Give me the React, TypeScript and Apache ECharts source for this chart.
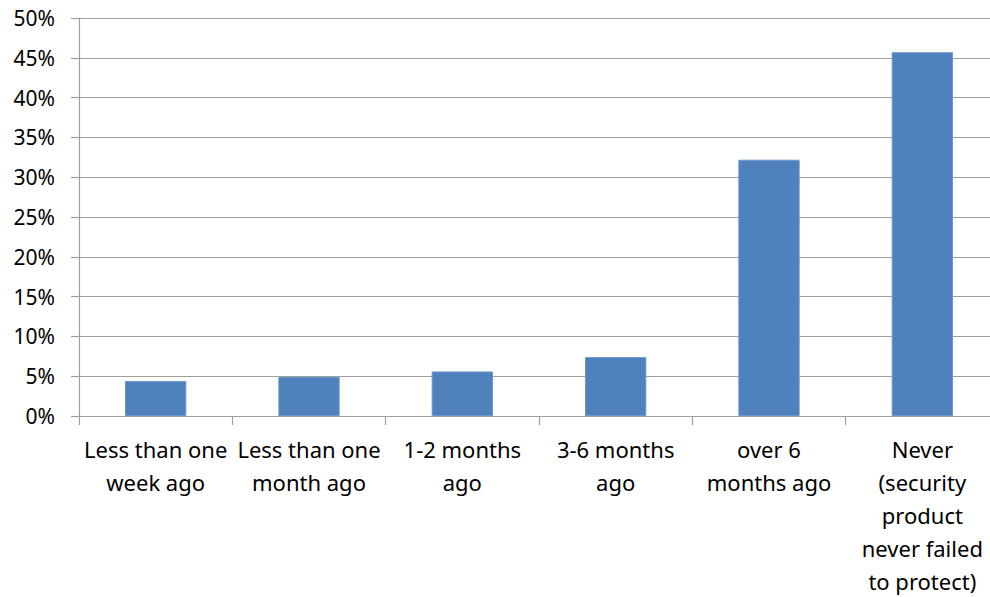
import React, { useEffect, useRef } from "react";
import * as echarts from "echarts";

const categories = [
  "Less than one\nweek ago",
  "Less than one\nmonth ago",
  "1-2 months\nago",
  "3-6 months\nago",
  "over 6\nmonths ago",
  "Never\n(security\nproduct\nnever failed\nto protect)",
];
const values = [4.4, 4.9, 5.6, 7.4, 32.2, 45.7];
const yTicks = { min: 0, max: 50, interval: 5 };

const FONT = "'Noto Sans', sans-serif";

export default function App() {
  const ref = useRef<HTMLDivElement>(null);
  useEffect(() => {
    if (!ref.current) return;
    const chart = echarts.init(ref.current, undefined, { renderer: "svg" });
    chart.setOption({
      animation: false,
      backgroundColor: "#ffffff",
      grid: { left: 79, right: 1, top: 18, bottom: 181, containLabel: false },
      xAxis: {
        type: "category",
        data: categories,
        axisLine: { show: true, lineStyle: { color: "#9e9e9e", width: 1.2 } },
        axisTick: { show: true, length: 9, lineStyle: { color: "#9e9e9e", width: 1.2 } },
        axisLabel: {
          interval: 0,
          color: "#000",
          fontFamily: FONT,
          fontSize: 22,
          lineHeight: 33,
          margin: 16,
        },
      },
      yAxis: {
        type: "value",
        min: yTicks.min,
        max: yTicks.max,
        interval: yTicks.interval,
        axisLine: { show: true, lineStyle: { color: "#9e9e9e", width: 1.2 } },
        axisTick: { show: true, length: 8, lineStyle: { color: "#9e9e9e", width: 1.2 } },
        splitLine: { show: true, lineStyle: { color: "#9e9e9e", width: 1.2 } },
        axisLabel: {
          color: "#000",
          fontFamily: FONT,
          fontSize: 21,
          margin: 24,
          formatter: "{value}%",
        },
      },
      series: [
        {
          type: "bar",
          data: values,
          barWidth: "40%",
          itemStyle: { color: "#4f81bd", borderColor: "#6e97c8", borderWidth: 1 },
        },
      ],
    });
    return () => chart.dispose();
  }, []);
  return (
    <div
      style={{
        position: "fixed",
        left: 0,
        top: 0,
        width: 990,
        height: 597,
        overflow: "hidden",
        background: "#fff",
      }}
    >
      <div ref={ref} style={{ width: 1000, height: 597 }} />
    </div>
  );
}
